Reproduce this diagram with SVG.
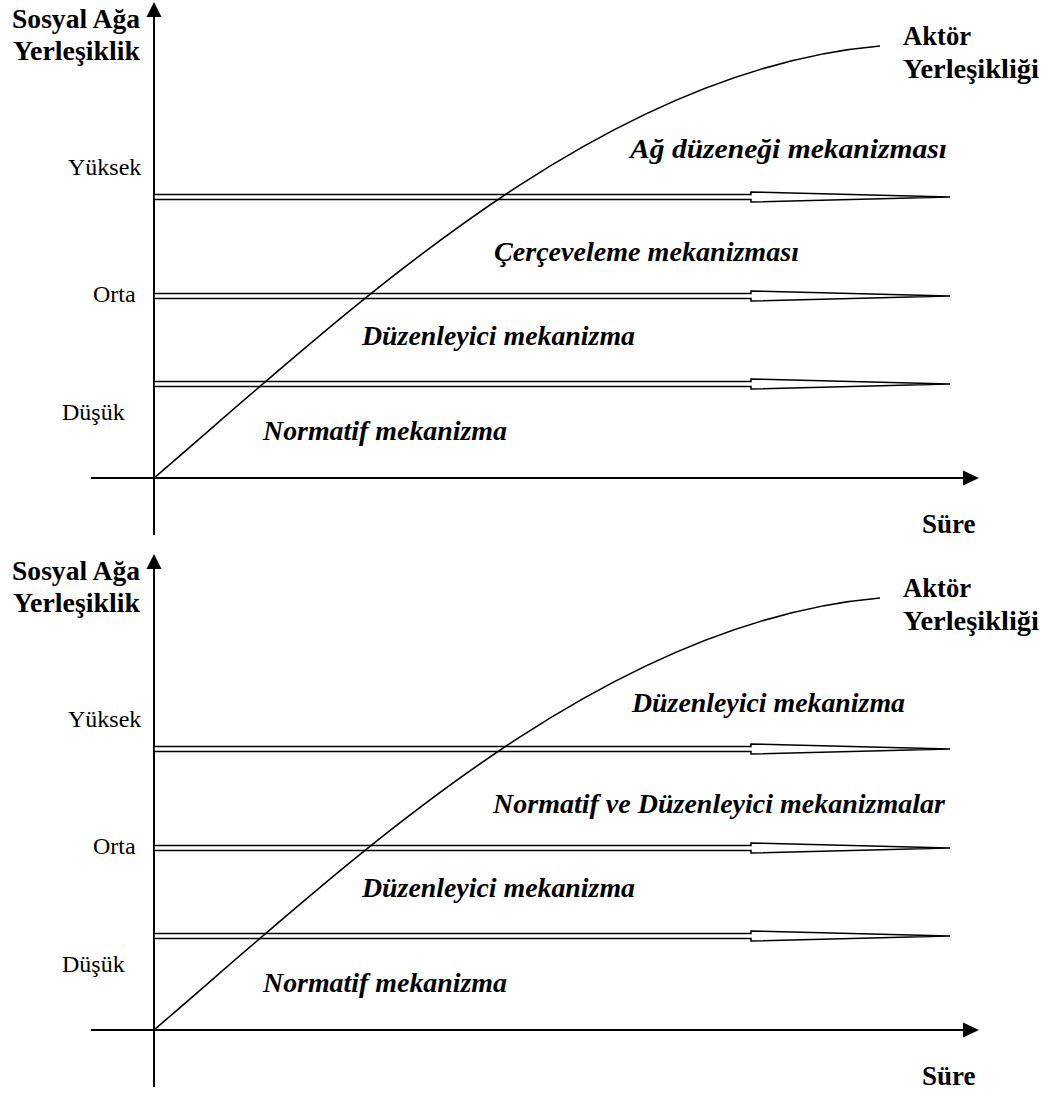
<svg xmlns="http://www.w3.org/2000/svg" width="1042" height="1097" viewBox="0 0 1042 1097" font-family="Liberation Serif, DejaVu Serif, Times New Roman, serif">
<style>
text{font-family:"Liberation Serif","DejaVu Serif","Times New Roman",Times,serif;fill:#000}
.b{font-weight:bold;font-size:27px}
.r{font-size:24px}
.bi{font-weight:bold;font-style:italic;font-size:27px}
.ax{stroke:#000;stroke-width:2;fill:none}
.cv{stroke:#000;stroke-width:1.6;fill:none}
.lv{stroke:#000;stroke-width:1.5;fill:#fff;stroke-linejoin:miter}
</style>
<defs>
<path id="lvl" class="lv" d="M154,-2.5 H751 V-5 L950,0 L751,5 V2.5 H154 Z"/>
<g id="panel">
<g id="axes">
<line class="ax" x1="154" y1="14" x2="154" y2="535"/>
<polygon points="154,2 146.5,17 161.5,17" fill="#000"/>
<line class="ax" x1="91" y1="478" x2="966" y2="478"/>
<polygon points="979,478 963,470.5 963,485.5" fill="#000"/>
</g>
</g>
</defs>

<g id="top-chart">
<g id="top-axes"><use href="#panel"/></g>
<g id="top-labels">
<text class="b" x="12" y="28" textLength="128" lengthAdjust="spacingAndGlyphs">Sosyal Ağa</text>
<text class="b" x="13" y="60" textLength="127" lengthAdjust="spacingAndGlyphs">Yerleşiklik</text>
<text class="r" x="68" y="175">Yüksek</text>
<text class="r" x="93" y="302">Orta</text>
<text class="r" x="62" y="420">Düşük</text>
<text class="b" x="922" y="533">Süre</text>
<text class="b" x="903" y="45" textLength="68" lengthAdjust="spacingAndGlyphs">Aktör</text>
<text class="b" x="903" y="78" textLength="136" lengthAdjust="spacingAndGlyphs">Yerleşikliği</text>
</g>
<g id="top-mechanisms">
<text class="bi" x="630" y="158" textLength="317" lengthAdjust="spacingAndGlyphs">Ağ düzeneği mekanizması</text>
<text class="bi" x="494" y="261" textLength="305" lengthAdjust="spacingAndGlyphs">Çerçeveleme mekanizması</text>
<text class="bi" x="362" y="345" textLength="273" lengthAdjust="spacingAndGlyphs">Düzenleyici mekanizma</text>
<text class="bi" x="263" y="440" textLength="244" lengthAdjust="spacingAndGlyphs">Normatif mekanizma</text>
</g>
</g>

<g id="bottom-chart">
<g id="bottom-axes"><use href="#panel" y="552"/></g>
<g id="bottom-labels">
<text class="b" x="12" y="580" textLength="128" lengthAdjust="spacingAndGlyphs">Sosyal Ağa</text>
<text class="b" x="13" y="612" textLength="127" lengthAdjust="spacingAndGlyphs">Yerleşiklik</text>
<text class="r" x="68" y="727">Yüksek</text>
<text class="r" x="93" y="854">Orta</text>
<text class="r" x="62" y="972">Düşük</text>
<text class="b" x="922" y="1085">Süre</text>
<text class="b" x="903" y="597" textLength="68" lengthAdjust="spacingAndGlyphs">Aktör</text>
<text class="b" x="903" y="630" textLength="136" lengthAdjust="spacingAndGlyphs">Yerleşikliği</text>
</g>
<g id="bottom-mechanisms">
<text class="bi" x="632" y="712" textLength="273" lengthAdjust="spacingAndGlyphs">Düzenleyici mekanizma</text>
<text class="bi" x="493" y="813" textLength="452" lengthAdjust="spacingAndGlyphs">Normatif ve Düzenleyici mekanizmalar</text>
<text class="bi" x="362" y="897" textLength="273" lengthAdjust="spacingAndGlyphs">Düzenleyici mekanizma</text>
<text class="bi" x="263" y="992" textLength="244" lengthAdjust="spacingAndGlyphs">Normatif mekanizma</text>
</g>
</g>

<g id="connectors">
<use href="#lvl" y="197"/>
<use href="#lvl" y="296"/>
<use href="#lvl" y="384"/>
<use href="#lvl" y="749"/>
<use href="#lvl" y="848"/>
<use href="#lvl" y="936"/>
<path class="cv" d="M154,478 C350,310 600,70 880,46"/>
<path class="cv" d="M154,1030 C350,862 600,622 880,598"/>
</g>
</svg>
